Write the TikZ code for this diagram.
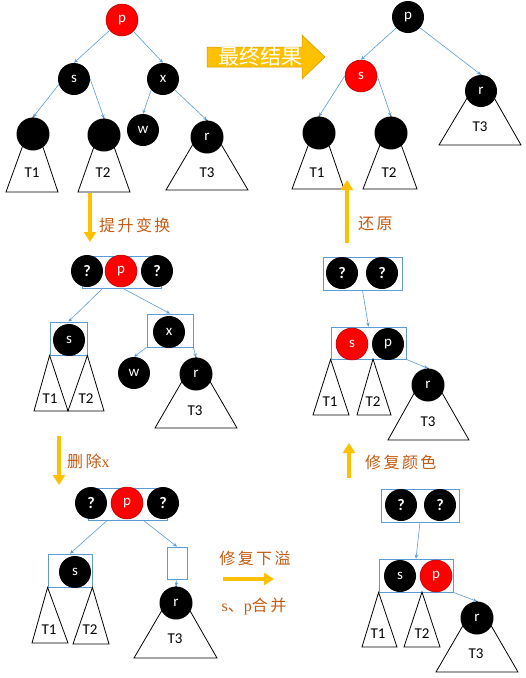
\documentclass[tikz,border=0pt]{standalone}
\usepackage{fontspec}
\setmainfont{Carlito}
\newfontfamily\cjk[LetterSpace=15]{Noto Sans CJK SC}
\newfontfamily\cjkbig{Noto Sans CJK SC}
\newfontfamily\lserif{Liberation Serif}
\usetikzlibrary{arrows.meta}

\definecolor{edgeblue}{HTML}{5B9BD5}
\definecolor{gold}{HTML}{FFC000}
\definecolor{rust}{HTML}{C55A11}

\begin{document}
\begin{tikzpicture}[x=1pt, y=-1pt,
    blk/.style={circle, fill=black, text=white, minimum size=32pt, inner sep=0pt,
                font=\fontsize{15}{15}\selectfont},
    leaf/.style={blk, minimum size=33pt},
    redn/.style={blk, fill=red, draw=red!70!black, line width=0.5pt},
    qn/.style={blk, font=\fontsize{16}{16}\selectfont\bfseries},
    grp/.style={draw=edgeblue, line width=0.8pt, inner sep=0pt},
    edge/.style={-{Stealth[length=4pt, width=3.5pt]}, edgeblue, line width=0.6pt},
    tree/.style={draw=black, line width=0.8pt},
    tlabel/.style={font=\fontsize{15}{15}\selectfont},
    move/.style={-{Triangle[length=10pt, width=12pt]}, gold, line width=3.5pt},
    note/.style={text=rust, font=\cjk\fontsize{16}{16}\selectfont, inner sep=0pt}
  ]
  \useasboundingbox (0,0) rectangle (526,678);

  % before
  \node[redn] (pA) at (122,20) {p};
  \node[blk] (sA) at (74,79) {s};
  \node[blk] (xA) at (163,79) {x};
  \node[leaf] (lA) at (33,134) {};
  \node[leaf] (mA) at (104,135) {};
  \node[blk] (wA) at (143,130) {w};
  \node[leaf] (rA) at (207,137) {r};
  \draw[edge] (pA.220) -- (sA.north);
  \draw[edge] (pA.315) -- (xA.north);
  \draw[edge] (sA.200) -- (lA.north);
  \draw[edge] (sA.0) -- (mA.north);
  \draw[edge] (xA.223) -- (wA.north);
  \draw[edge] (xA.317) -- (rA.north);
  \draw[tree] (lA.north) -- (6,192) -- (58,192) -- cycle;
  \draw[tree] (mA.north) -- (78,192) -- (130,192) -- cycle;
  \draw[tree] (rA.north) -- (166,190) -- (248,190) -- cycle;
  \node[tlabel] (t1A) at (32,173) {T1};
  \node[tlabel] (t2A) at (103,173) {T2};
  \node[tlabel] (t3A) at (207,173) {T3};

  % result
  \fill[gold, draw=gold!80!black, line width=0.5pt] (207,47) -- (302,47) -- (302,35)
    -- (325,57) -- (302,79) -- (302,67) -- (207,67) -- cycle;
  \node[text=white, font=\cjkbig\fontsize{21}{21}\selectfont, inner sep=0pt] (final) at (260,57) {最终结果};

  \node[blk] (pB) at (408,17) {p};
  \node[redn] (sB) at (361,76) {s};
  \node[blk] (rB) at (481,91) {r};
  \node[leaf] (lB) at (319,133) {};
  \node[leaf] (mB) at (391,133) {};
  \draw[edge] (pB.223) -- (sB.north);
  \draw[edge] (pB.318) -- (rB.north);
  \draw[edge] (sB.west) -- (lB.north);
  \draw[edge] (sB.east) -- (mB.north);
  \draw[tree] (lB.north) -- (292,189) -- (344,189) -- cycle;
  \draw[tree] (mB.north) -- (363,189) -- (417,189) -- cycle;
  \draw[tree] (rB.north) -- (439,145) -- (521,145) -- cycle;
  \node[tlabel] (t1B) at (317,173) {T1};
  \node[tlabel] (t2B) at (389,173) {T2};
  \node[tlabel] (t3B) at (480,127) {T3};

  % lift
  \coordinate (m1a) at (90,193);
  \coordinate (m1b) at (90,242);
  \draw[move] (m1a) -- (m1b);
  \node[note, anchor=west] (n1) at (99,225) {提升变换};

  \node[grp, minimum width=79pt, minimum height=32pt] (boxC) at (121.5,272) {};
  \node[qn] (q1C) at (87,271) {?};
  \node[redn] (pC) at (121,271) {p};
  \node[qn] (q2C) at (157,271) {?};
  \node[grp, minimum width=37pt, minimum height=33pt] (sboxC) at (68.5,338.5) {};
  \node[blk] (sC) at (69,340) {s};
  \node[grp, minimum width=46pt, minimum height=33pt] (xboxC) at (170,330.5) {};
  \node[blk] (xC) at (169,332) {x};
  \node[blk] (wC) at (134,373) {w};
  \node[leaf] (rC) at (196,374) {r};
  \draw[edge] (boxC.221) -- (sboxC.north);
  \draw[edge] (boxC.275) -- (xboxC.north);
  \draw[edge] (xboxC.south west) -- (wC.north);
  \draw[edge] (xboxC.south east) -- (rC.north);
  \draw[tree] (sboxC.south west) -- (34,411) -- (68,411) -- cycle;
  \draw[tree] (sboxC.south east) -- (68,411) -- (104,411) -- cycle;
  \draw[tree] (rC.north) -- (155,428) -- (237,428) -- cycle;
  \node[tlabel] (t1C) at (50,399) {T1};
  \node[tlabel] (t2C) at (86,399) {T2};
  \node[tlabel] (t3C) at (195,411) {T3};

  % delete x
  \coordinate (m2a) at (59,436);
  \coordinate (m2b) at (59,485);
  \draw[move] (m2a) -- (m2b);
  \node[note, anchor=west] (n2) at (67,461) {删除{\lserif x}};

  \node[grp, minimum width=79pt, minimum height=32pt] (boxD) at (127.5,504) {};
  \node[qn] (q1D) at (91,503) {?};
  \node[redn] (pD) at (127,503) {p};
  \node[qn] (q2D) at (163,503) {?};
  \node[grp, minimum width=44pt, minimum height=33pt] (sboxD) at (70,570.5) {};
  \node[blk] (sD) at (75,572) {s};
  \node[grp, minimum width=20pt, minimum height=32pt] (eboxD) at (177,563) {};
  \node[leaf] (rD) at (176,603) {r};
  \draw[edge] (boxD.219) -- (sboxD.north);
  \draw[edge] (boxD.314) -- (eboxD.north);
  \draw[edge] (eboxD.south) -- (rD.north);
  \draw[tree] (sboxD.south west) -- (32,643) -- (68,643) -- cycle;
  \draw[tree] (sboxD.south east) -- (73,644) -- (109,644) -- cycle;
  \draw[tree] (rD.north) -- (134,658) -- (217,658) -- cycle;
  \node[tlabel] (t1D) at (49,630) {T1};
  \node[tlabel] (t2D) at (90,630) {T2};
  \node[tlabel] (t3D) at (175,639) {T3};

  % underflow
  \coordinate (m3a) at (223,579);
  \coordinate (m3b) at (274,579);
  \draw[move] (m3a) -- (m3b);
  \node[note] (n3) at (255,558) {修复下溢};
  \node[note] (n4) at (254,606) {{\lserif s}、{\lserif p}合并};

  \node[grp, minimum width=78pt, minimum height=33pt] (boxG) at (420,505.5) {};
  \node[qn] (q1G) at (401,505) {?};
  \node[qn] (q2G) at (440,505) {?};
  \node[grp, minimum width=74pt, minimum height=33pt] (boxH) at (416,575.5) {};
  \node[blk] (sF) at (400,576) {s};
  \node[redn] (pF) at (436,576) {p};
  \node[leaf] (rF) at (477,618) {r};
  \draw[edge] (boxG.south) -- (boxH.north);
  \draw[edge] (boxH.south east) -- (rF.north);
  \draw[tree] (boxH.south west) -- (362,647) -- (397,647) -- cycle;
  \draw[tree] (422,592) -- (404,647) -- (440,647) -- cycle;
  \draw[tree] (rF.north) -- (436,672) -- (518,672) -- cycle;
  \node[tlabel] (t1F) at (378,634) {T1};
  \node[tlabel] (t2F) at (422,634) {T2};
  \node[tlabel] (t3F) at (476,654) {T3};

  % recolour
  \coordinate (m4a) at (349,478);
  \coordinate (m4b) at (349,443);
  \draw[move] (m4a) -- (m4b);
  \node[note, anchor=west] (n5) at (365,462) {修复颜色};

  \node[grp, minimum width=79pt, minimum height=33pt] (boxE) at (362.5,273.5) {};
  \node[qn] (q1E) at (342,273) {?};
  \node[qn] (q2E) at (382,273) {?};
  \node[grp, minimum width=75pt, minimum height=32pt] (boxF) at (368.5,343) {};
  \node[redn] (sE) at (352,344) {s};
  \node[blk] (pE) at (388,344) {p};
  \node[leaf] (rE) at (428,385) {r};
  \draw[edge] (boxE.south) -- (boxF.north);
  \draw[edge] (boxF.south east) -- (rE.north);
  \draw[tree] (boxF.south west) -- (313,415) -- (349,415) -- cycle;
  \draw[tree] (373,359) -- (357,415) -- (391,415) -- cycle;
  \draw[tree] (rE.north) -- (388,440) -- (469,440) -- cycle;
  \node[tlabel] (t1E) at (330,402) {T1};
  \node[tlabel] (t2E) at (373,402) {T2};
  \node[tlabel] (t3E) at (428,422) {T3};

  % restore
  \coordinate (m5a) at (347,243);
  \coordinate (m5b) at (347,180);
  \draw[move] (m5a) -- (m5b);
  \node[note, anchor=west] (n6) at (358,224) {还原};
\end{tikzpicture}
\end{document}
